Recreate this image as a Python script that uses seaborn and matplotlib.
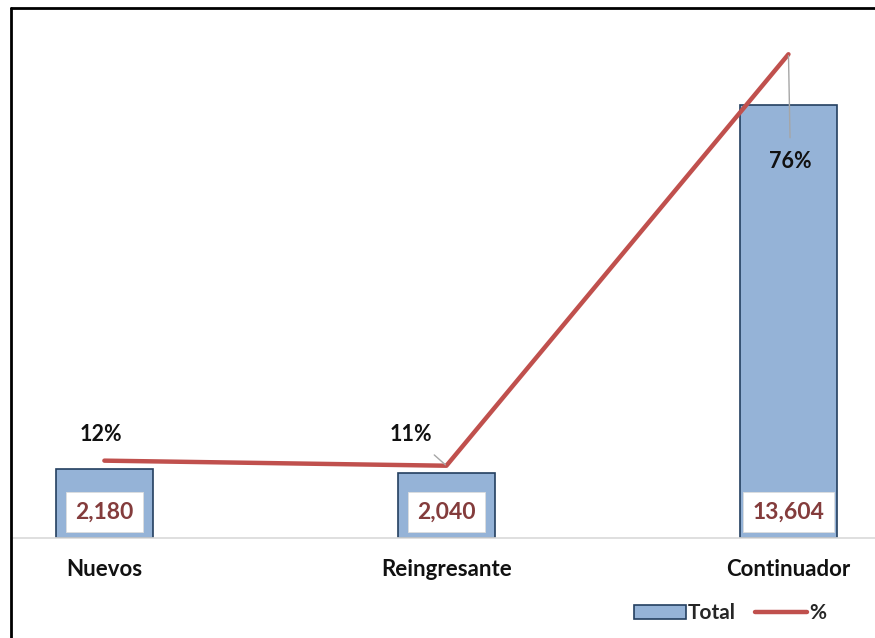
import numpy as np
import pandas as pd
import matplotlib.pyplot as plt
import seaborn as sns
from matplotlib.lines import Line2D
from matplotlib.patches import Patch

categorias = ['Nuevos', 'Reingresante', 'Continuador']
totales = [2180, 2040, 13604]
porcentajes = [12.2, 11.4, 76.3]
etiquetas_pct = ['12%', '11%', '76%']

df = pd.DataFrame({'categoria': categorias, 'total': totales, 'pct': porcentajes})

sns.set_style('white')
plt.rcParams['font.family'] = ['Lato', 'DejaVu Sans']

bar_fill = '#95B3D7'
bar_edge = '#243F60'
line_col = '#C0504D'
val_col = '#843C3C'

fig = plt.figure(figsize=(8.75, 6.38), dpi=100)
ax = fig.add_axes([11/875, 1-538/638, 864/875, 518/638])

sns.barplot(data=df, x='categoria', y='total', ax=ax, color=bar_fill,
            width=0.284, edgecolor=bar_edge, linewidth=1.2, saturation=1)
ax.set_xlim(-0.273, 2.253)
ax.set_ylim(0, 16275)
for s in ['top', 'left', 'right']:
    ax.spines[s].set_visible(False)
ax.spines['bottom'].set_color('#D9D9D9')
ax.spines['bottom'].set_linewidth(1.2)
ax.set_yticks([])
ax.set_xlabel('')
ax.set_ylabel('')
ax.tick_params(axis='x', length=0, pad=15, labelsize=16)
for t in ax.get_xticklabels():
    t.set_fontweight('bold')
    t.set_color('#111111')

for i, v in enumerate(totales):
    ax.annotate(f'{v:,}', xy=(i, 0), xytext=(0, 26), textcoords='offset pixels',
                ha='center', va='center', fontsize=16.5, fontweight='bold', color=val_col,
                bbox=dict(boxstyle='square,pad=0.4', fc='white', ec='#DDDDDD', lw=0.6))

ax2 = ax.twinx()
sns.lineplot(data=df, x='categoria', y='pct', ax=ax2, color=line_col, linewidth=3.2,
             sort=False, solid_capstyle='round')
ax2.set_ylim(0, 81.7)
ax2.set_yticks([])
ax2.set_ylabel('')
for s in ['top', 'left', 'right', 'bottom']:
    ax2.spines[s].set_visible(False)

offsets = [(-3, 26), (-35, 31), (2, -107)]
for i, (lab, off) in enumerate(zip(etiquetas_pct, offsets)):
    arrow = None
    if i > 0:
        arrow = dict(arrowstyle='-', color='#A6A6A6', lw=1, shrinkA=7, shrinkB=1)
    ax2.annotate(lab, xy=(i, porcentajes[i]), xytext=off, textcoords='offset pixels',
                 ha='center', va='center', fontsize=15.5, fontweight='bold',
                 color='#111111', arrowprops=arrow)

handles = [Patch(facecolor=bar_fill, edgecolor=bar_edge, linewidth=1.2),
           Line2D([0], [0], color=line_col, linewidth=3.2)]
leg = fig.legend(handles, ['Total', '%'], loc='center', bbox_to_anchor=(0.834, 0.039),
                 ncol=2, frameon=False, handlelength=2.5, handletextpad=0.1,
                 columnspacing=0.9, prop={'weight': 'bold', 'size': 15})

fig.add_artist(Line2D([10.5/875, 10.5/875], [0, 1-8/638], color='black', lw=2,
                      transform=fig.transFigure))
fig.add_artist(Line2D([10.5/875, 1], [1-8/638, 1-8/638], color='black', lw=2,
                      transform=fig.transFigure))

plt.savefig('out.png', dpi=100)
